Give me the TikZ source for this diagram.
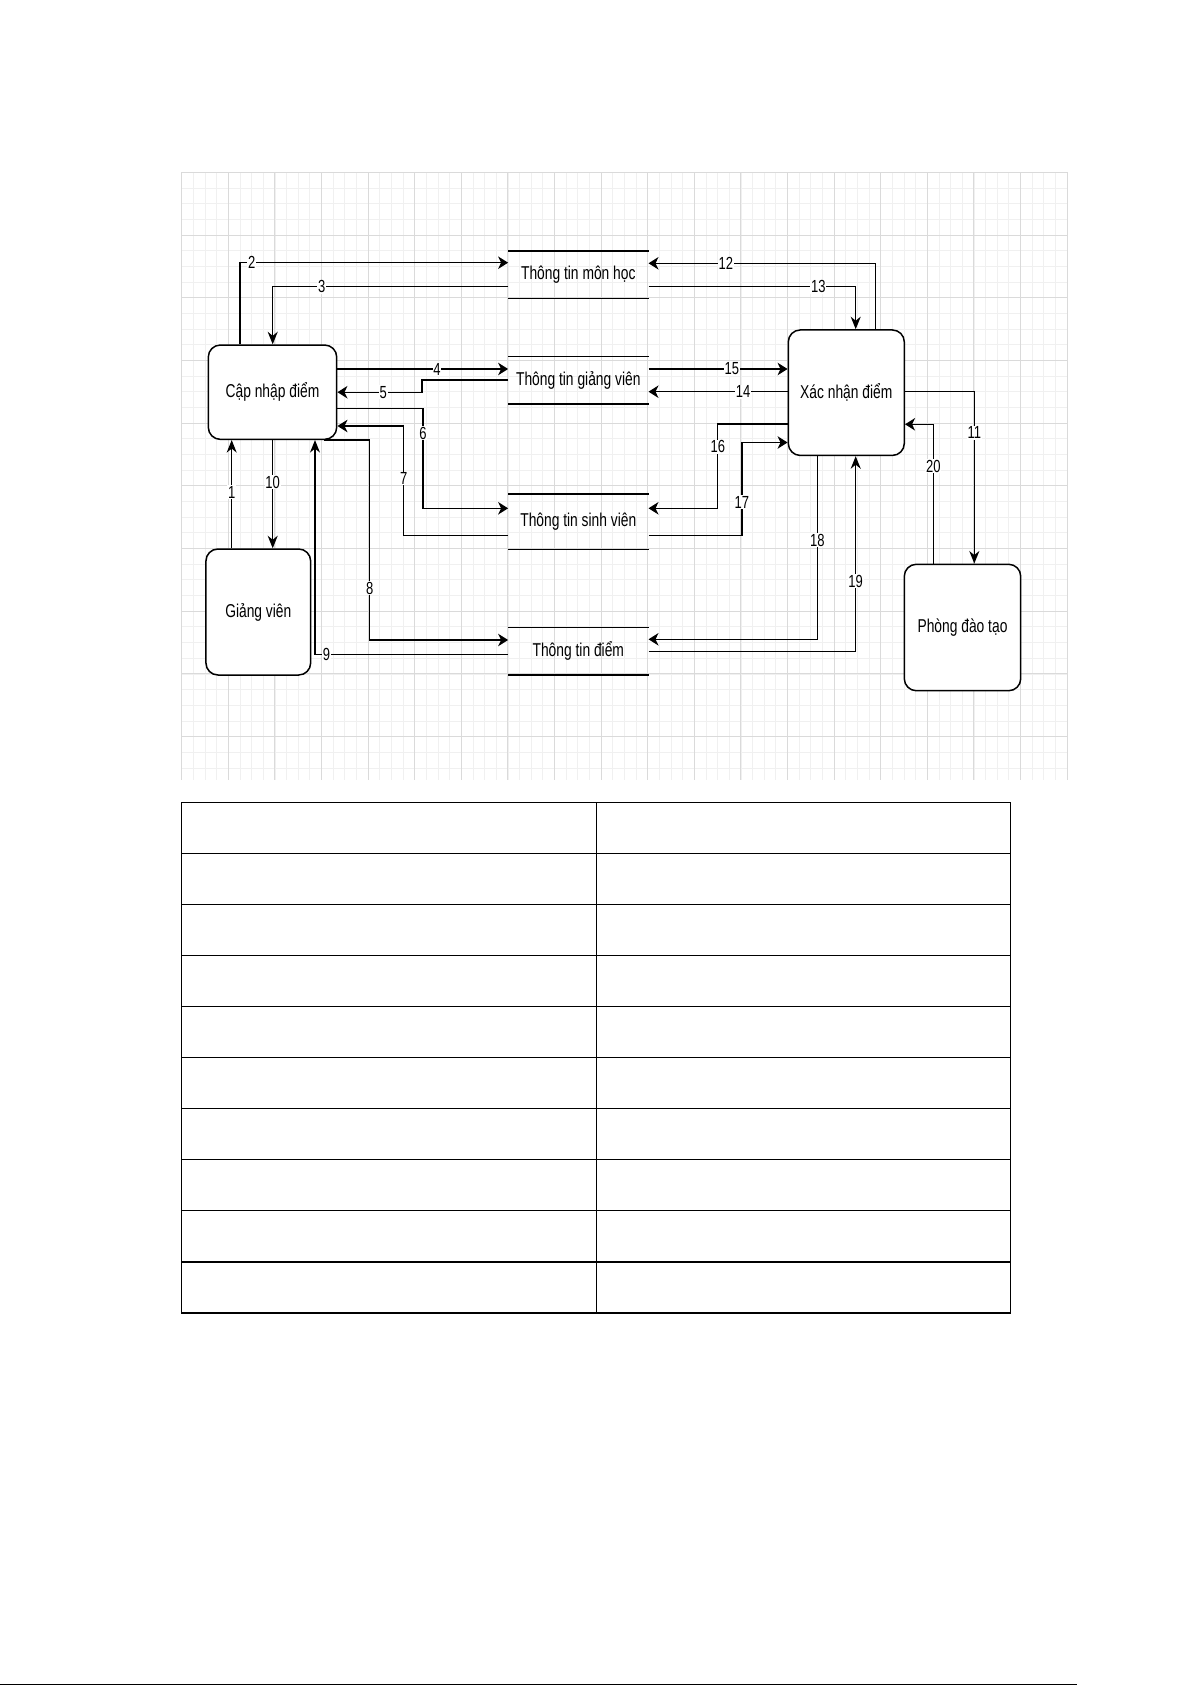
\documentclass[tikz,border=0pt]{standalone}
\usepackage{fontspec}
\newfontfamily\diafont{Liberation Sans}[FakeStretch=0.743]
\usetikzlibrary{arrows.meta}
\definecolor{gridminor}{RGB}{240,240,240}
\definecolor{gridmajor}{RGB}{218,218,218}

\begin{document}
\begin{tikzpicture}[x=1pt,y=-1pt]
  \tikzstyle{proc}=[draw,line width=1.5pt,rounded corners=12pt,fill=white,
    inner sep=0pt,align=center,font=\diafont\fontsize{18.6}{22}\selectfont]
  \tikzstyle{store}=[minimum width=140pt,inner sep=0pt,font=\diafont\fontsize{18.6}{22}\selectfont]
  \tikzstyle{storeline}=[line width=1.4pt]
  \tikzstyle{flow}=[line width=1.3pt]
  \tikzstyle{toh}=[-{Stealth[length=10pt,width=12.5pt,inset=3pt]}]
  \tikzstyle{tov}=[-{Stealth[length=12.5pt,width=10pt,inset=4pt]}]
  \tikzstyle{lbl}=[fill=white,inner sep=0.8pt,font=\diafont\fontsize{17.5}{19}\selectfont]
  \useasboundingbox (0,0) rectangle (1192,1685);
  % Grid paper behind the diagram
  \foreach \i in {0,...,76}
    \draw[gridminor,line width=0.8pt] (181.7+11.65*\i,172.3) -- (181.7+11.65*\i,780);
  \foreach \j in {0,...,38}
    \draw[gridminor,line width=0.8pt] (181.7,172.3+15.675*\j) -- (1066.9,172.3+15.675*\j);
  \foreach \i in {0,4,...,76}
    \draw[gridmajor,line width=0.9pt] (181.7+11.65*\i,172.3) -- (181.7+11.65*\i,780);
  \foreach \j in {0,4,...,36}
    \draw[gridmajor,line width=0.9pt] (181.7,172.3+15.675*\j) -- (1066.9,172.3+15.675*\j);
  % Processes and actors
  \node[proc,minimum width=128.4pt,minimum height=94.3pt] (capnhap) at (272.5,392.2) {Cập nhập điểm};
  \node[proc,minimum width=104.7pt,minimum height=126pt] (giangvien) at (258.3,612) {Giảng viên};
  \node[proc,minimum width=116pt,minimum height=125.5pt] (xacnhan) at (846.3,392.7) {Xác nhận điểm};
  \node[proc,minimum width=116.4pt,minimum height=126.4pt] (phongdt) at (962.5,627.5) {Phòng đào tạo};
  % Data stores in the middle
  \node[store,minimum height=47.3pt] (monhoc) at (578.3,274.7) {Thông tin môn học};
  \node[store,minimum height=47.3pt] (gvinfo) at (578.3,380.3) {Thông tin giảng viên};
  \node[store,minimum height=54.7pt] (svinfo) at (578.3,521.7) {Thông tin sinh viên};
  \node[store,minimum height=47.3pt] (diem) at (578.3,651.3) {Thông tin điểm};
  \foreach \s in {monhoc,gvinfo,svinfo,diem}
    \draw[storeline] (\s.north west) -- (\s.north east) (\s.south west) -- (\s.south east);
  % Flows on the left side
  \draw[flow,tov] ([xshift=-26.6pt]giangvien.north) -- node[lbl,pos=0.52]{1} ([xshift=-26.6pt]giangvien.north |- capnhap.south);
  \draw[flow,toh] ([xshift=-32.5pt]capnhap.north) |- node[lbl,pos=0.522]{2} ([yshift=12pt]monhoc.west);
  \draw[flow,tov] ([yshift=-12pt]monhoc.west) -| node[lbl,pos=0.396]{3} ([xshift=0.2pt]capnhap.north);
  \draw[flow,toh] ([yshift=23.2pt]capnhap.east) -- node[lbl,pos=0.583]{4} ([yshift=23.2pt]capnhap.east -| gvinfo.west);
  \draw[flow,toh] ([yshift=0.3pt]gvinfo.west) -- ++(-86,0) |- node[lbl,pos=0.73]{5} (capnhap.east);
  \draw[flow,toh] ([yshift=-16.1pt]capnhap.east) -- ++(85.6,0) |- node[lbl,pos=0.125]{6} ([yshift=13.4pt]svinfo.west);
  \draw[flow,toh] ([yshift=-14pt]svinfo.west) -- ++(-104.3,0) |- node[lbl,pos=0.26]{7} ([yshift=-33.8pt]capnhap.east);
  \draw[flow,toh] ([xshift=-13.4pt]capnhap.south east) -- ++(45.7,0) |- node[lbl,pos=0.37]{8} ([yshift=11.3pt]diem.west);
  \draw[flow,tov] ([yshift=-3pt]diem.west) -| node[lbl,pos=0.47]{9} ([xshift=42.5pt]capnhap.south);
  \draw[flow,tov] ([xshift=0.2pt]capnhap.south) -- node[lbl,pos=0.39]{10} ([xshift=0.2pt]capnhap.south |- giangvien.north);
  % Flows on the right side
  \draw[flow,tov] ([yshift=1pt]xacnhan.east) -| node[lbl,pos=0.62]{11} ([xshift=11.8pt]phongdt.north);
  \draw[flow,toh] ([xshift=29.4pt]xacnhan.north) |- node[lbl,pos=0.83]{12} ([yshift=11.4pt]monhoc.east);
  \draw[flow,tov] ([yshift=-12pt]monhoc.east) -| node[lbl,pos=0.41]{13} ([xshift=9.4pt]xacnhan.north);
  \draw[flow,toh] ([yshift=1pt]xacnhan.west) -- node[lbl,pos=0.32]{14} ([yshift=1pt]xacnhan.west -| gvinfo.east);
  \draw[flow,toh] ([yshift=11.3pt]gvinfo.east) -- node[lbl,pos=0.6]{15} ([yshift=11.3pt]gvinfo.east -| xacnhan.west);
  \draw[flow,toh] ([yshift=-31.3pt]xacnhan.west) -- ++(-69.8,0) |- node[lbl,pos=0.135]{16} ([yshift=13.4pt]svinfo.east);
  \draw[flow,toh] ([yshift=-14pt]svinfo.east) -- ++(93.4,0) |- node[lbl,pos=0.18]{17} ([yshift=-49.8pt]xacnhan.west);
  \draw[flow,toh] ([xshift=-29pt]xacnhan.south) |- node[lbl,pos=0.23]{18} ([yshift=12pt]diem.east);
  \draw[flow,tov] ([yshift=-0.3pt]diem.east) -| node[lbl,pos=0.68]{19} ([xshift=9.4pt]xacnhan.south);
  \draw[flow,toh] ([xshift=-29.2pt]phongdt.north) |- node[lbl,pos=0.35]{20} ([yshift=-31.6pt]xacnhan.east);
  % Empty table below the diagram
  \draw[line width=1.2pt] (181.7,802.3) rectangle (1010.3,1313);
  \draw[line width=1.2pt] (596.3,802.3) -- (596.3,1313);
  \foreach \r in {1,...,9}
    \draw[line width=1.2pt] (181.7,802.3+51.07*\r) -- (1010.3,802.3+51.07*\r);
  % Footer rule
  \draw[line width=1pt] (0,1684) -- (1076.7,1684);
\end{tikzpicture}
\end{document}
